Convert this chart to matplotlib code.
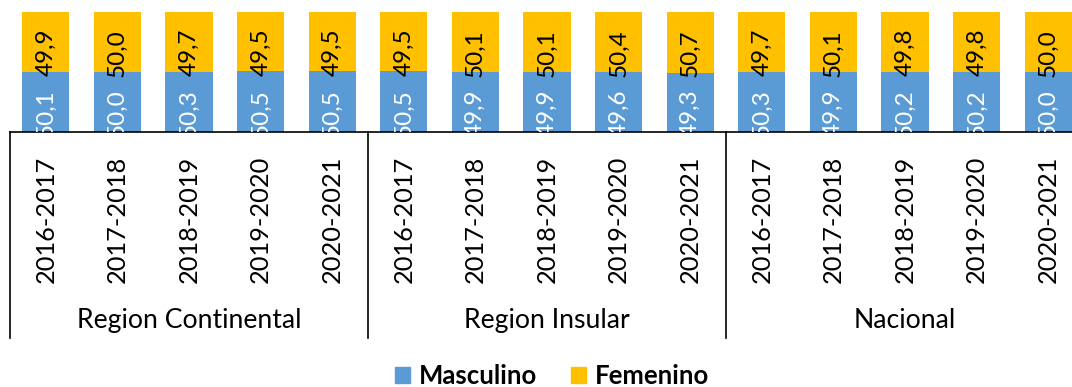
import matplotlib
matplotlib.use("Agg")
import matplotlib.pyplot as plt
from matplotlib.patches import Patch
from matplotlib.transforms import blended_transform_factory
from matplotlib.lines import Line2D

plt.rcParams['font.family'] = ['Lato', 'DejaVu Sans']

groups = ["Region Continental", "Region Insular", "Nacional"]
years = ["2016-2017", "2017-2018", "2018-2019", "2019-2020", "2020-2021"]
masculino = [50.1, 50.0, 50.3, 50.5, 50.5,
             50.5, 49.9, 49.9, 49.6, 49.3,
             50.3, 49.9, 50.2, 50.2, 50.0]
femenino = [49.9, 50.0, 49.7, 49.5, 49.5,
            49.5, 50.1, 50.1, 50.4, 50.7,
            49.7, 50.1, 49.8, 49.8, 50.0]

BLUE = "#5B9BD5"
GOLD = "#FFC000"

W, H = 1072, 387
fig = plt.figure(figsize=(W / 100, H / 100), dpi=100)
ax = fig.add_axes([10 / W, 1 - 132 / H, 1074 / W, 120 / H])

n = len(masculino)
x = list(range(n))
ax.bar(x, masculino, width=0.66, color=BLUE)
ax.bar(x, femenino, width=0.66, bottom=masculino, color=GOLD)

def fmt(v):
    return f"{v:.1f}".replace(".", ",")

for xi, m, f in zip(x, masculino, femenino):
    ax.text(xi, 16, fmt(m), rotation=90, ha="center", va="center",
            color="white", fontsize=17.5, clip_on=True)
    ax.text(xi, m + 16, fmt(f), rotation=90, ha="center", va="center",
            color="black", fontsize=17.5, clip_on=True)

ax.set_xlim(-0.5, n - 0.5)
ax.set_ylim(0, 100)
ax.set_yticks([])
for s in ("left", "right", "top"):
    ax.spines[s].set_visible(False)
ax.spines["bottom"].set_color("black")
ax.spines["bottom"].set_linewidth(1.2)

ax.set_xticks(x)
ax.set_xticklabels(years * len(groups), rotation=90, fontsize=18.3, va="top")
ax.tick_params(axis="x", length=0, pad=17)

trans = blended_transform_factory(ax.transData, ax.transAxes)
bottom_frac = -(338 - 132) / 120
for b in [-0.5, 4.5, 9.5, 14.5]:
    ax.add_line(Line2D([b, b], [0, bottom_frac], transform=trans,
                       color="black", lw=1.2, clip_on=False))

group_y = -(321 - 132) / 120
for gi, g in enumerate(groups):
    ax.text(gi * 5 + 2, group_y, g, transform=trans, ha="center",
            va="center", fontsize=19.2)

handles = [Patch(color=BLUE, label="Masculino"),
           Patch(color=GOLD, label="Femenino")]
fig.legend(handles=handles, loc="center", bbox_to_anchor=(552 / W, 1 - 376 / H),
           ncol=2, frameon=False, prop={"weight": "bold", "size": 18.5},
           handlelength=0.6, handleheight=0.6, handletextpad=0.35,
           columnspacing=1.3, borderaxespad=0)

fig.savefig("out.png", dpi=100)
